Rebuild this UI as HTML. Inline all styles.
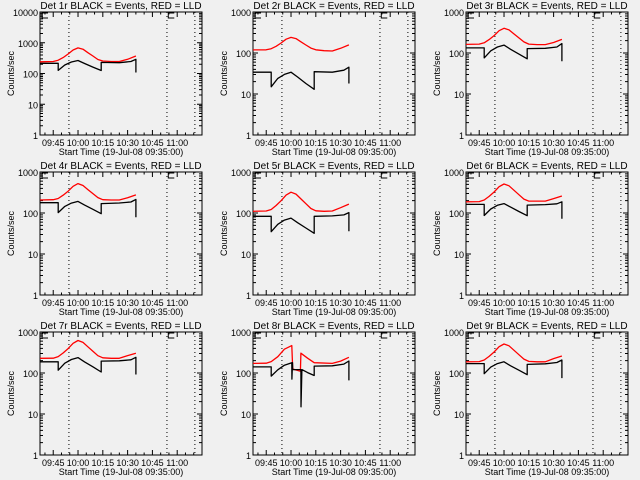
<!DOCTYPE html>
<html><head><meta charset="utf-8"><style>
html,body{margin:0;padding:0;background:#f0f0f0;}
svg{display:block;font-family:"Liberation Sans",sans-serif;}
</style></head><body>
<svg id="chart" width="640" height="480" viewBox="0 0 640 480" xmlns="http://www.w3.org/2000/svg">
<rect x="0" y="0" width="640" height="480" fill="#f0f0f0"/>
</svg>
<script>
// Shared x-axis tick data (minutes since midnight)
const xTickValues = [585, 600, 615, 630, 645, 660];
const xTickLabels = ["09:45", "10:00", "10:15", "10:30", "10:45", "11:00"];
const dottedTimes = [594.5, 653.8, 670.7];
const panelTitles = ["Det 1r","Det 2r","Det 3r","Det 4r","Det 5r","Det 6r","Det 7r","Det 8r","Det 9r"];
const yTopDecade = [4,3,3,3,3,3,3,3,3];

// Black (Events) series times and values
const timesBlack = [577, 588, 588.01, 592, 596, 600, 604, 609, 614, 614.01, 625, 632, 635, 636];
const black1 = [215,215,126,189,237,265,212,162,125,230,225,245,290,108];
const black2 = [34,34,15,24,30,34,26,18,13,35,34,38,45,18];
const black3 = [133,133,76,113,140,156,123,94,72,128,130,140,170,63];
const black4 = [178,178,102,145,174,192,156,123,96,170,175,185,215,79];
const black5 = [83,83,35,53,67,75,58,43,32,83,85,90,102,36];
const black6 = [162,162,87,125,154,170,139,109,86,156,160,168,188,72];
const black7 = [188,188,117,173,213,237,187,142,106,195,198,210,241,92];
const black9 = [170,170,96,139,170,188,150,117,91,162,168,180,207,75];
const timesBlack8 = [577, 588, 588.01, 592, 596, 600.5, 600.51, 600.9, 601, 606, 606.01, 606.6, 610, 614, 614.01, 625, 632, 635, 636];
const black8 = [141, 141, 84, 120, 155, 178, 71, 178, 121, 121, 15, 121, 102, 87, 147, 150, 165, 196, 66];

// Red (LLD) series times and values
const timesRed = [577,585,588,591,594,597,600,603,606,609,612,615,620,625,630,635];
const red1 = [240,245,270,330,430,580,680,615,475,370,285,255,245,245,290,370];
const red2 = [119,120,127,146,175,217,240,224,188,157,132,120,114,112,130,158];
const red3 = [162,165,177,212,266,350,400,366,292,233,186,165,160,160,180,215];
const red4 = [207,211,226,271,340,447,520,468,373,298,238,211,207,207,235,277];
const red5 = [110,112,122,152,199,274,322,289,221,169,129,113,110,112,135,165];
const red6 = [188,190,207,254,325,438,510,461,359,280,218,195,195,195,225,260];
const red7 = [228,230,251,308,394,531,620,559,435,340,264,235,228,228,265,304];
const red9 = [188,190,207,254,325,438,510,461,359,280,218,192,188,188,225,260];
const timesRed8 = [577, 585, 588, 592, 596, 600.5, 601, 605.7, 606, 610, 614, 625, 630, 635];
const red8 = [171, 173, 190, 250, 380, 465, 125, 110, 304, 230, 178, 171, 195, 241];

const blackSeries = [black1,black2,black3,black4,black5,black6,black7,black8,black9];
const redSeries = [red1,red2,red3,red4,red5,red6,red7,red8,red9];

const NS = "http://www.w3.org/2000/svg";
const svg = document.getElementById("chart");
function mk(tag, attrs, parent){
  const e = document.createElementNS(NS, tag);
  for (const k in attrs) e.setAttribute(k, attrs[k]);
  parent.appendChild(e);
  return e;
}
const X0 = 40, X1 = 202, Y0 = 12, Y1 = 135, TMIN = 577, TMAX = 675;

for (let p = 0; p < 9; p++) {
  const ox = (p % 3) * 213, oy = Math.floor(p / 3) * 160;
  const g = mk("g", {transform: "translate(" + ox + "," + oy + ")"}, svg);
  
  
  const top = yTopDecade[p];
  const xs = t => X0 + (t - TMIN) / (TMAX - TMIN) * (X1 - X0);
  const ys = v => Y1 - Math.log10(v) / top * (Y1 - Y0);

  const box = mk("rect", {x: X0, y: Y0, width: X1 - X0, height: Y1 - Y0, fill: "none", stroke: "#000", "stroke-width": 1}, g);
  
  

  const title = mk("text", {x: 121, y: 9, "font-size": 10, "text-anchor": "middle", fill: "#000"}, g);
  title.textContent = panelTitles[p] + " BLACK = Events, RED = LLD";
  
  

  let tk = "";
  for (let d = 0; d <= top; d++) {
    const y = ys(Math.pow(10, d));
    tk += "M" + X0 + " " + y + "h5M" + X1 + " " + y + "h-5";
    const lab = mk("text", {x: X0 - 2, y: y + 4, "font-size": 9, "text-anchor": "end", fill: "#000"}, g);
    lab.textContent = String(Math.pow(10, d));
    
    
    if (d < top) for (let m = 2; m <= 9; m++) {
      const ym = ys(m * Math.pow(10, d));
      tk += "M" + X0 + " " + ym + "h3M" + X1 + " " + ym + "h-3";
    }
  }
  for (let i = 0; i < xTickValues.length; i++) {
    const x = xs(xTickValues[i]);
    tk += "M" + x + " " + Y1 + "v-5M" + x + " " + Y0 + "v5";
    const lab = mk("text", {x: x, y: 146, "font-size": 9, "text-anchor": "middle", fill: "#000"}, g);
    lab.textContent = xTickLabels[i];
    
    
  }
  for (let t = 580; t < TMAX; t += 5) {
    const x = xs(t);
    tk += "M" + x + " " + Y1 + "v-2.5M" + x + " " + Y0 + "v2.5";
  }
  const ticks = mk("path", {d: tk, stroke: "#000", "stroke-width": 1, fill: "none"}, g);
  
  

  const yt = mk("text", {x: 0, y: 0, "font-size": 9, "text-anchor": "middle", fill: "#000", transform: "translate(14," + ((Y0 + Y1) / 2) + ") rotate(-90)"}, g);
  yt.textContent = "Counts/sec";
  
  
  const xt = mk("text", {x: 121, y: 155, "font-size": 9, "text-anchor": "middle", fill: "#000"}, g);
  xt.textContent = "Start Time (19-Jul-08 09:35:00)";
  
  

  for (const t of dottedTimes) {
    const dl = mk("line", {x1: xs(t), x2: xs(t), y1: Y0, y2: Y1, stroke: "#000", "stroke-width": 1, "stroke-dasharray": "1,3"}, g);
    
    
  }
  for (const bx of [X0 + 2, xs(654) + 1]) {
    const bm = mk("path", {d: "M" + (bx + 6) + " " + (Y0 + 1) + "H" + bx + "V" + (Y0 + 6) + "H" + (bx + 6), stroke: "#000", fill: "none", "stroke-width": 1}, g);
    
    
  }

  const tb = p === 7 ? timesBlack8 : timesBlack;
  const tr = p === 7 ? timesRed8 : timesRed;
  const bv = blackSeries[p], rv = redSeries[p];
  let dr = "";
  for (let i = 0; i < tr.length; i++) dr += (i ? "L" : "M") + xs(tr[i]).toFixed(1) + " " + ys(rv[i]).toFixed(1);
  const rl = mk("path", {d: dr, stroke: "#ff0000", "stroke-width": 1.3, fill: "none", "stroke-linejoin": "round"}, g);
  
  
  let db = "";
  for (let i = 0; i < tb.length; i++) {
    let x = xs(tb[i]);
    if (i === tb.length - 1) x = xs(tb[i - 1]);
    db += (i ? "L" : "M") + x.toFixed(1) + " " + ys(bv[i]).toFixed(1);
  }
  const bl = mk("path", {d: db, stroke: "#000", "stroke-width": 1.3, fill: "none", "stroke-linejoin": "round"}, g);
  
  
}
</script>
</body></html>
